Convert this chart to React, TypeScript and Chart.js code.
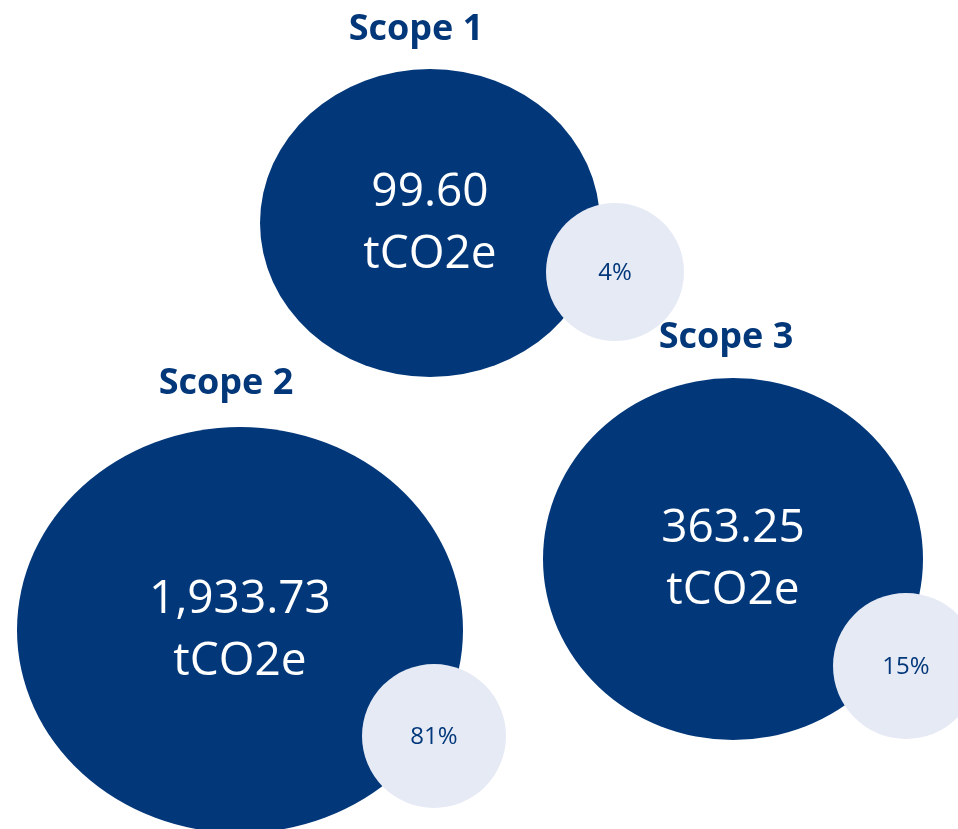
import React, { useEffect, useRef } from 'react';
import { Chart, registerables } from 'chart.js';

Chart.register(...registerables);

// ---- data ----
const scopes = ['Scope 1', 'Scope 2', 'Scope 3'];
const emissions = [99.6, 1933.73, 363.25];
const unit = 'tCO2e';
const shares = [4, 81, 15];

// ---- layout (in scale units, 1 unit = 1 px) ----
const bigX = [430, 240, 733];
const bigY = [223, 630, 559];
const bigRX = [170, 223, 190];
const bigRY = [154, 203, 181];
const smallX = [615, 434, 906];
const smallY = [272, 736, 666];
const smallR = [69, 72, 73];
const titleX = [416, 226, 726];
const titleY = [30, 384, 338];

const NAVY = '#02377A';
const LIGHT = '#E6EAF5';
const FONT = '"Open Sans", "Noto Sans", sans-serif';

const fmt = (v: number) =>
  v.toLocaleString('en-US', { minimumFractionDigits: 2, maximumFractionDigits: 2 });

const ellipsePlugin = {
  id: 'ellipseBubbles',
  beforeDatasetDraw(chart: any, args: any) {
    if (args.index !== 0) return;
    const { ctx, scales } = chart;
    const meta = chart.getDatasetMeta(0);
    const ds = chart.data.datasets[0] as any;
    ctx.save();
    ctx.fillStyle = NAVY;
    meta.data.forEach((el: any, i: number) => {
      const d = ds.data[i];
      const rx = Math.abs(scales.x.getPixelForValue(d.x + d.rx) - el.x);
      const ry = Math.abs(scales.y.getPixelForValue(d.y + d.ry) - el.y);
      ctx.beginPath();
      ctx.ellipse(el.x, el.y, rx, ry, 0, 0, Math.PI * 2);
      ctx.fill();
    });
    ctx.restore();
    return false;
  },
  afterDatasetsDraw(chart: any) {
    const { ctx, scales } = chart;
    const big = chart.getDatasetMeta(0).data;
    const small = chart.getDatasetMeta(1).data;
    ctx.save();
    ctx.textAlign = 'center';
    scopes.forEach((name, i) => {
      ctx.fillStyle = NAVY;
      ctx.font = `bold 36px ${FONT}`;
      ctx.textBaseline = 'middle';
      ctx.fillText(name, scales.x.getPixelForValue(titleX[i]), scales.y.getPixelForValue(titleY[i]));
      ctx.textBaseline = 'alphabetic';
      ctx.fillStyle = '#FFFFFF';
      ctx.font = `46px ${FONT}`;
      const b = big[i];
      ctx.fillText(fmt(emissions[i]), b.x, b.y - 17);
      ctx.fillText(unit, b.x, b.y + 45);
      const s = small[i];
      ctx.fillStyle = NAVY;
      ctx.font = `24px ${FONT}`;
      ctx.fillText(`${shares[i]}%`, s.x, s.y + 8);
    });
    ctx.restore();
  },
};

export default function App() {
  const ref = useRef<HTMLCanvasElement | null>(null);
  useEffect(() => {
    document.body.style.margin = '0';
    if (!ref.current) return;
    const chart = new Chart(ref.current, {
      type: 'bubble',
      data: {
        datasets: [
          {
            label: 'Emissions',
            data: scopes.map((_, i) => ({ x: bigX[i], y: bigY[i], r: 0, rx: bigRX[i], ry: bigRY[i] })) as any,
            backgroundColor: NAVY,
            order: 2,
            clip: false as any,
          },
          {
            label: 'Share',
            data: scopes.map((_, i) => ({ x: smallX[i], y: smallY[i], r: smallR[i] })),
            backgroundColor: LIGHT,
            borderWidth: 0,
            hoverRadius: 0,
            order: 1,
            clip: false as any,
          },
        ],
      },
      options: {
        animation: false,
        responsive: true,
        maintainAspectRatio: false,
        layout: { padding: 0, autoPadding: false },
        events: [],
        scales: {
          x: { type: 'linear', min: 0, max: 958, display: false },
          y: { type: 'linear', min: 0, max: 829, reverse: true, display: false },
        },
        plugins: {
          legend: { display: false },
          tooltip: { enabled: false },
        },
      },
      plugins: [ellipsePlugin],
    });
    return () => chart.destroy();
  }, []);
  return (
    <div style={{ width: 958, height: 829, position: 'relative', background: '#FFFFFF' }}>
      <canvas ref={ref} />
    </div>
  );
}
